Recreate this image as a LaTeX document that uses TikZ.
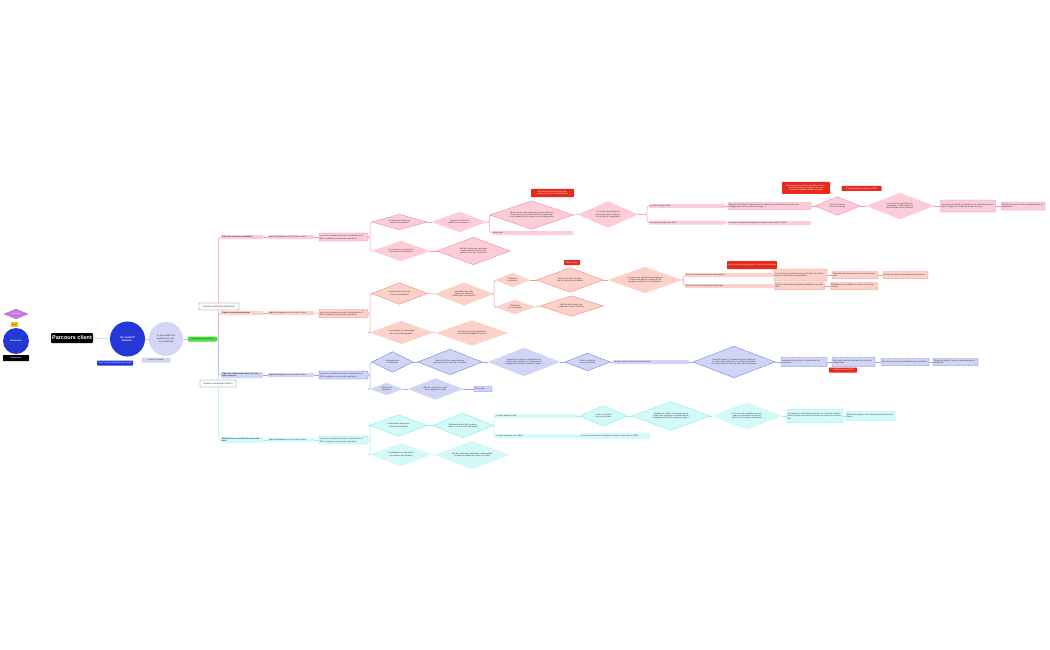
\documentclass[tikz,border=0pt]{standalone}
\usepackage{fontspec}
\setmainfont{Liberation Sans}
\usetikzlibrary{backgrounds}
\definecolor{txt}{HTML}{333333}
\definecolor{pinkF}{HTML}{FCCDD9}
\definecolor{pinkD}{HTML}{EE6F90}
\definecolor{pinkL}{HTML}{F49AB1}
\definecolor{salF}{HTML}{FCD1CA}
\definecolor{salD}{HTML}{EC6E5E}
\definecolor{salL}{HTML}{F29D91}
\definecolor{bluF}{HTML}{D0D5F5}
\definecolor{bluD}{HTML}{5466E0}
\definecolor{bluL}{HTML}{A0AAEC}
\definecolor{cyaF}{HTML}{D3FAF9}
\definecolor{cyaD}{HTML}{5EEAE4}
\definecolor{cyaL}{HTML}{98F0EC}
\definecolor{redF}{HTML}{E62A1E}
\definecolor{bigblue}{HTML}{2438D8}
\definecolor{lav}{HTML}{D3D6F5}
\definecolor{lavL}{HTML}{BCC2F0}
\definecolor{grn}{HTML}{45E03A}
\definecolor{purp}{HTML}{C57BD9}
\definecolor{yel}{HTML}{F2C100}
\tikzset{
  every node/.style={font=\fontsize{2}{2.4}\selectfont, text=txt},
  bx/.style={rectangle, inner xsep=0.8pt, inner ysep=0.3pt, rounded corners=0.6pt, align=left},
  dsh/.style={line width=0.35pt, dash pattern=on 0.8pt off 0.4pt},
  pkF/.style={fill=pinkF},
  pkD/.style={fill=pinkF, draw=pinkD, dsh},
  saF/.style={fill=salF},
  saD/.style={fill=salF, draw=salD, dsh},
  blF/.style={fill=bluF},
  blD/.style={fill=bluF, draw=bluD, dsh},
  cyF/.style={fill=cyaF},
  cyD/.style={fill=cyaF, draw=cyaD, dsh},
  rdbox/.style={fill=redF, text=white, align=center},
  ln/.style={line width=0.5pt, rounded corners=1.5pt},
  gbox/.style={fill=white, draw=black!65, line width=0.4pt, rounded corners=0.3pt, align=center, font=\fontsize{2.3}{2.6}\selectfont},
}
% box: style, name, x, y, w, h, text
\newcommand\Bx[7]{\pgfmathsetmacro\tw{#5-1.6}\node[bx,#1,minimum width=#5pt,minimum height=#6pt,text width=\tw pt] (#2) at (#3,#4) {#7};}
% diamond: style, name, x, y, w, h, text
\newcommand\Dm[7]{\pgfmathsetmacro\tw{#5*0.55}\node[inner sep=0pt,minimum width=#5pt,minimum height=#6pt,text width=\tw pt,align=center] (#2) at (#3,#4) {#7};
\begin{scope}[on background layer]\path[#1] (#2.west) -- (#2.north) -- (#2.east) -- (#2.south) -- cycle;\end{scope}}
\newcommand\appel{Appel téléphonique ou rdv en face à face}
\newcommand\formu{Le service commercial envoie le formulaire de 1\textsuperscript{er} RDV complété au service des opérations}
\newcommand\signa{Signature de l'offre et transmission au service des opérations et lancement de l'engagement (contrat, paiement, gage...)}
\newcommand\clot{Clôture du projet et envoi du questionnaire de satisfaction}
\begin{document}
\begin{tikzpicture}[x=1pt,y=-1pt]
\begin{scope}[on background layer]\fill[white] (0,0) rectangle (1050,650);\end{scope}
\useasboundingbox (0,0) rectangle (1050,650);

% legend
\Dm{fill=purp}{lgA}{16}{314}{25}{10}{\color{white}Condition}
\Bx{fill=yel,rounded corners=0pt,align=center}{lgB}{14.5}{324.5}{7}{5}{Délai}
\node[circle, fill=bigblue, minimum size=26pt, inner sep=0pt, text=white, font=\fontsize{2.2}{2.6}\selectfont\bfseries] (lgC) at (16,341) {Interaction};
\Bx{fill=black,text=white,align=center,rounded corners=0.3pt}{lgD}{16}{358}{26}{6}{\textbf{Processus}}

% main start
\node[fill=black, text=white, font=\fontsize{5.5}{6}\selectfont\bfseries, minimum width=42pt, minimum height=10pt, rounded corners=1pt, inner sep=0pt] (pc) at (72,338) {Parcours client};
\node[circle, fill=bigblue, minimum size=35pt, inner sep=0pt, text width=22pt, align=center, text=white, font=\fontsize{2.6}{3}\selectfont\bfseries] (k1) at (127.5,339) {Un contact* devient...};
\node[circle, fill=lav, minimum size=34pt, inner sep=0pt, text width=26pt, align=center, font=\fontsize{2.2}{2.6}\selectfont] (k2) at (166,339) {Le besoin/offre est qualifié par le service marketing};
\Bx{fill=grn,align=center}{gr}{202.5}{339}{29}{5}{Transfert au commercial}
\Bx{fill=bigblue,text=white,align=center}{nb1}{115}{363}{36}{5}{*avoir rempli le formulaire de contact}
\Bx{fill=lav,align=center}{nb2}{156}{360}{29}{5}{*avoir été qualifié}

% pink branch
\Bx{pkF}{p0}{242}{237}{42}{4}{\textbf{Créer une ressource mutualisée}}
\Bx{pkF}{p1}{291}{237}{46}{4}{\appel}
\Bx{pkD}{p2}{343.5}{237}{49}{8}{\formu}
\Dm{pkD}{p3}{399.5}{222}{55}{15}{La ressource répond aux critères d'acceptation}
\Dm{pkF}{p4}{401}{251}{58}{20}{La ressource ne répond pas aux critères d'acceptation}
\Dm{pkF}{p5}{459.5}{222}{55}{20}{Quelle est la note de qualité de la ressource ?}
\Dm{pkD}{p6}{473.5}{251}{73}{27}{Mail du service des opérations commerciales au client expliquant le refus de la ressource}
\Dm{pkD}{p7}{531.5}{215}{83}{28}{Mail du service des opérations commerciales au client avec une proposition d'offre commerciale et une invitation à un rendez-vous de négociation}
\Bx{rdbox}{r1}{552.5}{193}{43}{8}{Envoi auto du message de négociation puis suivi sur la plateforme}
\Dm{pkF}{p8}{608}{214.5}{60}{26}{Le service des opérations envoie par mail la confirmation du rdv de négociation}
\Bx{pkF}{p9}{532.5}{233}{81}{4}{Aucun suivi ?}
\Bx{pkF}{p10}{687}{206}{76}{4}{Le client accepte l'offre}
\Bx{pkF}{p11}{687}{222.5}{76}{4}{Le client n'accepte pas l'offre}
\Bx{pkD}{p12}{769.5}{206}{83}{7}{\signa}
\Bx{pkF}{p13}{769.5}{223}{83}{4}{Le service commercial complète et clôture le suivi dans le CRM}
\Dm{pkD}{p14}{837.5}{206}{45}{18}{Créer une facture de suivi du projet}
\Bx{rdbox}{r2}{806}{188}{48}{12}{Une facture de suivi doit permettre au commercial de relancer le gage et de créer un dossier Hubspot rattaché au gage}
\Bx{rdbox}{r3}{861.5}{188.5}{40}{5}{À ajouter dans les étapes du CRM}
\Dm{pkF}{p15}{900}{206}{68}{26}{Le service des opérations accompagne le client jusqu'à la mise en place de la ressource}
\Bx{pkD}{p16}{968}{206}{55}{12}{Un espace de suivi de la ressource est créé dans l'espace client et l'agent est notifié de la mise en place}
\Bx{pkD}{p17}{1023}{206}{44}{8}{\clot}

% salmon branch
\Bx{saF}{s0}{242}{313}{42}{4}{\textbf{Créer un nouveau partenariat}}
\Bx{saF}{s1}{291}{313}{46}{4}{\appel}
\Bx{saD}{s2}{343.5}{313.5}{49}{8}{\formu}
\Dm{saD}{s3}{399.5}{293.5}{55}{21}{Le partenaire répond aux critères d'acceptation}
\Dm{saF}{s4}{401.5}{332.5}{63}{23}{Le partenaire ne répond pas aux critères d'acceptation}
\Dm{saF}{s5}{464}{294}{58}{23}{Vérification des informations du partenaire (statut légal, assurances)}
\Dm{saF}{s6}{472}{333}{72}{25}{Mail du service des opérations au partenaire expliquant le refus}
\Dm{saF}{s7}{512.5}{280}{35}{14}{Vérification concluante}
\Dm{saF}{s8}{515}{307}{40}{14}{Vérification non concluante}
\Dm{saD}{s9}{570}{280}{66}{24}{Mail envoyé avec la signature du contrat de partenariat}
\Bx{rdbox}{r4}{572}{262.5}{16}{5}{Mail de suivi}
\Dm{saD}{s10}{571.5}{306}{63}{20}{Mail de refus envoyé au partenaire et non-inscription}
\Dm{saF}{s11}{645}{280}{74}{26}{Le service des opérations accompagne le partenaire dans la création de sa première prestation sur la plateforme}
\Bx{saF}{s12}{729}{275}{88}{4}{Pour les contrats de prestation permanente}
\Bx{saF}{s13}{729}{286}{88}{4}{Pour les contrats de prestation ponctuelle}
\Bx{rdbox}{r5}{752}{265}{50}{8}{Créer un référencement pour le contrat de partenariat}
\Bx{saD}{s14}{800.5}{275}{53}{12}{Le service des opérations envoie une fiche de contact avec les informations du prestataire}
\Bx{saD}{s15}{799.5}{286}{50}{7}{Suivi et relance des propositions transmises au partenaire}
\Bx{saD}{s16}{855}{275}{46}{7}{Vérification des propositions du contrat chaque mois}
\Bx{saD}{s17}{854}{286}{47}{7}{Vérification de la validité du contrat et de la facturation}
\Bx{saD}{s18}{905.5}{275}{45}{7}{Clôture du suivi ou renouvellement du contrat}

% blue branch
\Bx{blF}{b0}{242}{375}{42}{6}{\textbf{Créer une collaboration avec une nouvelle ressource}}
\Bx{blF}{b1}{291}{375}{46}{4}{\appel}
\Bx{blD}{b2}{343.5}{375}{49}{8}{\formu}
\Dm{blD}{b3}{392.5}{362}{41}{20}{Acceptation de la demande}
\Dm{blD}{b4}{450}{362}{64}{25}{Envoi de l'offre commerciale au client par mail et suivi de la réponse}
\Dm{blF}{b5}{386.5}{389}{33}{12}{Refus de la demande}
\Dm{blF}{b6}{435.5}{389}{55}{21}{Mail du service des opérations expliquant le refus}
\Bx{blD}{b7}{483}{389}{18}{5}{Fin du suivi}
\Dm{blF}{b8}{524}{362}{72}{28}{\signa}
\Dm{blD}{b9}{587.5}{362}{45}{17}{Créer une facture de suivi du projet}
\Bx{blF}{b10}{651}{362}{76}{4}{Le client reçoit la facture de la prestation}
\Dm{blD}{b11}{734}{362}{82}{31}{Suivi des étapes : le financement est validé par le service des opérations avec rappels réguliers au client jusqu'à la mise en place de la ressource}
\Bx{blD}{b12}{804}{362}{46}{9}{Lancement de la mise en relation avec les ressources}
\Bx{blD}{b13}{853.5}{362}{43}{9}{Suivi de la mise en place avec les outils de collaboration}
\Bx{rdbox}{r6}{843}{370}{28}{5}{Création dans le CRM}
\Bx{blD}{b14}{905}{362}{48}{7}{Suivi de la ressource et validation de la prestation}
\Bx{blD}{b15}{955.5}{362}{45}{7}{\clot}

% cyan branch
\Bx{cyF}{c0}{242}{440}{42}{6}{\textbf{Mutualiser une nouvelle ressource existante}}
\Bx{cyF}{c1}{291}{440}{46}{4}{\appel}
\Bx{cyD}{c2}{343.5}{440}{49}{8}{\formu}
\Dm{cyD}{c3}{398.5}{425.5}{57}{21}{La demande répond aux critères d'acceptation}
\Dm{cyD}{c4}{463}{425.5}{60}{24}{Réalisation d'une offre commerciale et envoi au client du besoin}
\Dm{cyF}{c5}{401}{454.5}{62}{23}{La demande ne répond pas aux critères d'acceptation}
\Dm{cyF}{c6}{472}{455}{75}{28}{Mail du service des opérations commerciales au client expliquant les raisons du refus}
\Bx{cyF}{c7}{536}{416}{82}{4}{Le client accepte l'offre}
\Bx{cyF}{c8}{536.5}{436}{83}{4}{Le client n'accepte pas l'offre}
\Dm{cyD}{c9}{603.5}{416}{47}{20}{Créer une facture de suivi du projet}
\Dm{cyD}{c10}{671}{416}{78}{28}{\signa}
\Bx{cyF}{c11}{615}{436}{70}{6}{Le service commercial complète et clôture le suivi dans le CRM}
\Dm{cyF}{c12}{747}{416}{70}{27}{Le service des opérations accompagne le client dans la mise en place de la ressource mutualisée}
\Bx{fill=cyaF,draw=cyaD,line width=0.35pt}{c13}{815}{416}{56}{13}{Un espace de suivi de la ressource est créé dans l'espace client et l'agent est notifié de la mise en place de la prestation}
\Bx{cyD}{c14}{870.5}{416}{49}{9}{\clot}

% connectors
\begin{scope}[on background layer]
\draw[ln, lavL] (pc.east) -- (k1.west);
\draw[ln, lavL] (k1.east) -- (k2.west);
\draw[ln, lavL] (k2.east) -- (gr.west);
\draw[ln, cyaL] (gr.east) -- ++(1.5,0) |- (c0.west);
\draw[ln, bluL] (gr.east) -- ++(1.5,0) |- (b0.west);
\draw[ln, salL] (gr.east) -- ++(1.5,0) |- (s0.west);
\draw[ln, pinkL] (gr.east) -- ++(1.5,0) |- (p0.west);
% pink
\draw[ln, pinkL] (p0.east) -- (p1.west);
\draw[ln, pinkL] (p1.east) -- (p2.west);
\draw[ln, pinkL] (p2.east) -- ++(2,0) |- (p3.west);
\draw[ln, pinkL] (p2.east) -- ++(2,0) |- (p4.west);
\draw[ln, pinkL] (p3.east) -- (p5.west);
\draw[ln, pinkL] (p4.east) -- (p6.west);
\draw[ln, pinkL] (p5.east) -- ++(2.5,0) |- (p7.west);
\draw[ln, pinkL] (p5.east) -- ++(2.5,0) |- (p9.west);
\draw[ln, pinkL] (p7.east) -- (p8.west);
\draw[ln, pinkL] (p8.east) -- ++(9,0) |- (p10.west);
\draw[ln, pinkL] (p8.east) -- ++(9,0) |- (p11.west);
\draw[ln, pinkL] (p10.east) -- (p12.west);
\draw[ln, pinkL] (p11.east) -- (p13.west);
\draw[ln, pinkL] (p12.east) -- (p14.west);
\draw[ln, pinkL] (p14.east) -- (p15.west);
\draw[ln, pinkL] (p15.east) -- (p16.west);
\draw[ln, pinkL] (p16.east) -- (p17.west);
% salmon
\draw[ln, salL] (s0.east) -- (s1.west);
\draw[ln, salL] (s1.east) -- (s2.west);
\draw[ln, salL] (s2.east) -- ++(2,0) |- (s3.west);
\draw[ln, salL] (s2.east) -- ++(2,0) |- (s4.west);
\draw[ln, salL] (s3.east) -- (s5.west);
\draw[ln, salL] (s4.east) -- (s6.west);
\draw[ln, salL] (s5.east) -- ++(1,0) |- (s7.west);
\draw[ln, salL] (s5.east) -- ++(1,0) |- (s8.west);
\draw[ln, salL] (s7.east) -- (s9.west);
\draw[ln, salL] (s8.east) -- (s10.west);
\draw[ln, salL] (s9.east) -- (s11.west);
\draw[ln, salL] (s11.east) -- ++(1.5,0) |- (s12.west);
\draw[ln, salL] (s11.east) -- ++(1.5,0) |- (s13.west);
\draw[ln, salL] (s12.east) -- (s14.west);
\draw[ln, salL] (s13.east) -- (s15.west);
\draw[ln, salL] (s14.east) -- (s16.west);
\draw[ln, salL] (s15.east) -- (s17.west);
\draw[ln, salL] (s16.east) -- (s18.west);
% blue
\draw[ln, bluL] (b0.east) -- (b1.west);
\draw[ln, bluL] (b1.east) -- (b2.west);
\draw[ln, bluL] (b2.east) -- ++(2,0) |- (b3.west);
\draw[ln, bluL] (b2.east) -- ++(2,0) |- (b5.west);
\draw[ln, bluL] (b3.east) -- (b4.west);
\draw[ln, bluL] (b4.east) -- (b8.west);
\draw[ln, bluL] (b8.east) -- (b9.west);
\draw[ln, bluL] (b9.east) -- (b10.west);
\draw[ln, bluL] (b10.east) -- (b11.west);
\draw[ln, bluL] (b11.east) -- (b12.west);
\draw[ln, bluL] (b12.east) -- (b13.west);
\draw[ln, bluL] (b13.east) -- (b14.west);
\draw[ln, bluL] (b14.east) -- (b15.west);
\draw[ln, bluL] (b5.east) -- (b6.west);
\draw[ln, bluL] (b6.east) -- (b7.west);
% cyan
\draw[ln, cyaL] (c0.east) -- (c1.west);
\draw[ln, cyaL] (c1.east) -- (c2.west);
\draw[ln, cyaL] (c2.east) -- ++(2,0) |- (c3.west);
\draw[ln, cyaL] (c2.east) -- ++(2,0) |- (c5.west);
\draw[ln, cyaL] (c3.east) -- (c4.west);
\draw[ln, cyaL] (c5.east) -- (c6.west);
\draw[ln, cyaL] (c4.east) -- ++(1,0) |- (c7.west);
\draw[ln, cyaL] (c4.east) -- ++(1,0) |- (c8.west);
\draw[ln, cyaL] (c7.east) -- (c9.west);
\draw[ln, cyaL] (c9.east) -- (c10.west);
\draw[ln, cyaL] (c10.east) -- (c12.west);
\draw[ln, cyaL] (c12.east) -- (c13.west);
\draw[ln, cyaL] (c13.east) -- (c14.west);
\draw[ln, cyaL] (c8.east) -- (c11.west);
\end{scope}

% service boxes on the trunk
\Bx{gbox}{sce}{219}{306.5}{40}{7}{Service commercial Expansion}
\Bx{gbox}{scp}{218}{383.5}{36}{7}{Service commercial Product}
\end{tikzpicture}
\end{document}
